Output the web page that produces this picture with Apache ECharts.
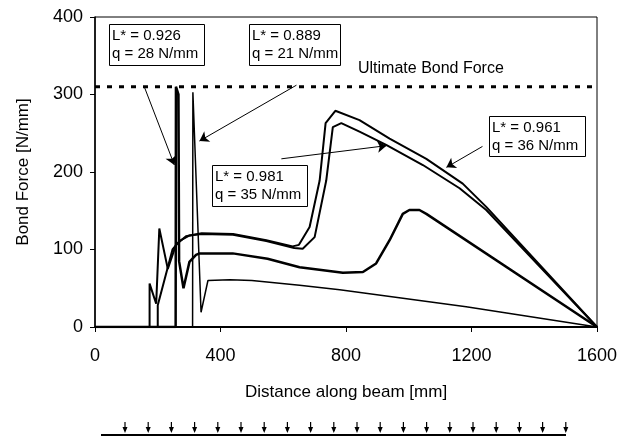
<!DOCTYPE html>
<html>
<head>
<meta charset="utf-8">
<script src="https://cdn.jsdelivr.net/npm/echarts@6/dist/echarts.min.js"></script>
<style>
html, body {margin: 0; background: #fff;}
#chart {width: 621px; height: 437px;}
</style>
</head>
<body>
<div id="chart"></div>
<script>
// bond force along the beam, [distance mm, force N/mm]
var curveQ36 = [[0, 0], [174, 0], [174, 56], [195, 30], [205, 127], [232, 75], [258, 106], [290, 117], [340, 121], [440, 120], [546, 112], [630, 104], [650, 106], [684, 129], [716, 189], [735, 263], [766, 279], [843, 267], [939, 243], [1056, 217], [1172, 185], [1247, 155], [1600, 0]];
var curveQ35 = [[0, 0], [200, 0], [200, 28], [247, 100], [270, 111], [300, 118], [340, 120], [440, 119], [546, 111], [635, 102], [662, 101], [700, 116], [737, 189], [758, 258], [785, 263], [843, 252], [928, 235], [1045, 209], [1162, 179], [1247, 151], [1600, 0]];
var curveQ28 = [[0, 0], [257, 0], [258, 310], [266, 300], [268, 85], [282, 50], [301, 84], [322, 93], [333, 95], [439, 95], [550, 88], [652, 77], [715, 74], [790, 70], [854, 71], [896, 82], [939, 112], [981, 146], [1002, 151], [1034, 151], [1056, 146], [1600, 0]];
var curveQ21 = [[0, 0], [311, 0], [312, 303], [338, 19], [360, 60], [430, 61], [500, 60], [652, 54], [780, 48], [1183, 26], [1554, 3], [1600, 0]];
var ultimateForce = 310;

var boxTexts = ['L* = 0.926\nq = 28 N/mm', 'L* = 0.889\nq = 21 N/mm', 'L* = 0.981\nq = 35 N/mm', 'L* = 0.961\nq = 36 N/mm'];
// arrows from the boxes to the curves (data coords)
var arrows = [
    [[158, 309], [253, 209]],
    [[642, 312], [333, 240]],
    [[594, 217], [929, 234]],
    [[1235, 233], [1120, 206]]
];
var loadArrowCount = 20;

var font = 'Liberation Sans, Arial, sans-serif';
var chart = echarts.init(document.getElementById('chart'));

function curve(data, width) {
    return {
        type: 'line',
        data: data,
        showSymbol: false,
        z: 3,
        lineStyle: {color: '#000', width: width}
    };
}

var boxPos = [[109, 24, 95, 41], [249, 24, 91, 41], [212, 165, 95, 41], [489, 116, 96, 40]];
var graphics = [];
boxTexts.forEach(function (t, i) {
    var b = boxPos[i];
    graphics.push({
        type: 'rect', left: b[0], top: b[1], z: 10,
        shape: {width: b[2], height: b[3]},
        style: {fill: '#fff', stroke: '#000', lineWidth: 1}
    });
    graphics.push({
        type: 'text', left: b[0] + 3, top: b[1] + 3, z: 11,
        style: {text: t, font: '15px ' + font, lineHeight: 18, fill: '#000'}
    });
});
graphics.push({
    type: 'text', left: 358, top: 61, z: 11,
    style: {text: 'Ultimate Bond Force', font: '16px ' + font, fill: '#000'}
});
// loaded beam sketch under the chart
graphics.push({
    type: 'line', z: 5,
    shape: {x1: 101, y1: 435, x2: 566, y2: 435},
    style: {stroke: '#000', lineWidth: 2}
});
for (var k = 0; k < loadArrowCount; k++) {
    var ax = 125 + k * 23.2;
    graphics.push({
        type: 'line', z: 5,
        shape: {x1: ax, y1: 422, x2: ax, y2: 431},
        style: {stroke: '#000', lineWidth: 1.2}
    });
    graphics.push({
        type: 'polygon', z: 5,
        shape: {points: [[ax - 2.5, 427], [ax + 2.5, 427], [ax, 433]]},
        style: {fill: '#000'}
    });
}

var option = {
    animation: false,
    backgroundColor: '#fff',
    textStyle: {fontFamily: font},
    grid: {left: 95, right: 24, top: 17, bottom: 110, show: true, borderColor: '#000', borderWidth: 1},
    xAxis: {
        type: 'value', min: 0, max: 1600, interval: 400,
        name: 'Distance along beam [mm]',
        nameLocation: 'middle', nameGap: 57,
        nameTextStyle: {fontSize: 17, color: '#000'},
        axisLine: {lineStyle: {color: '#000', width: 2}},
        axisTick: {length: 5, lineStyle: {color: '#000'}},
        axisLabel: {fontSize: 18, color: '#000', margin: 20, formatter: function (v) { return String(v); }},
        splitLine: {show: false}
    },
    yAxis: {
        type: 'value', min: 0, max: 400, interval: 100,
        name: 'Bond Force [N/mm]',
        nameLocation: 'middle', nameGap: 63, nameRotate: 90,
        nameTextStyle: {fontSize: 17, color: '#000'},
        axisLine: {show: true, lineStyle: {color: '#000', width: 1.5}},
        axisTick: {show: true, length: 5, lineStyle: {color: '#000'}},
        axisLabel: {fontSize: 18, color: '#000', margin: 12},
        splitLine: {show: false}
    },
    graphic: graphics,
    series: [
        {
            type: 'line',
            data: [[0, ultimateForce], [1600, ultimateForce]],
            showSymbol: false,
            z: 2,
            lineStyle: {color: '#000', width: 3, type: [5, 7]}
        },
        curve(curveQ36, 2),
        curve(curveQ35, 2),
        curve(curveQ28, 2.5),
        Object.assign(curve(curveQ21, 1.5), {
            markLine: {
                silent: true,
                symbol: ['none', 'arrow'],
                symbolSize: 9,
                label: {show: false},
                lineStyle: {color: '#000', width: 1, type: 'solid'},
                data: arrows.map(function (a) {
                    return [{coord: a[0]}, {coord: a[1]}];
                })
            }
        })
    ]
};
chart.setOption(option);
</script>
</body>
</html>
